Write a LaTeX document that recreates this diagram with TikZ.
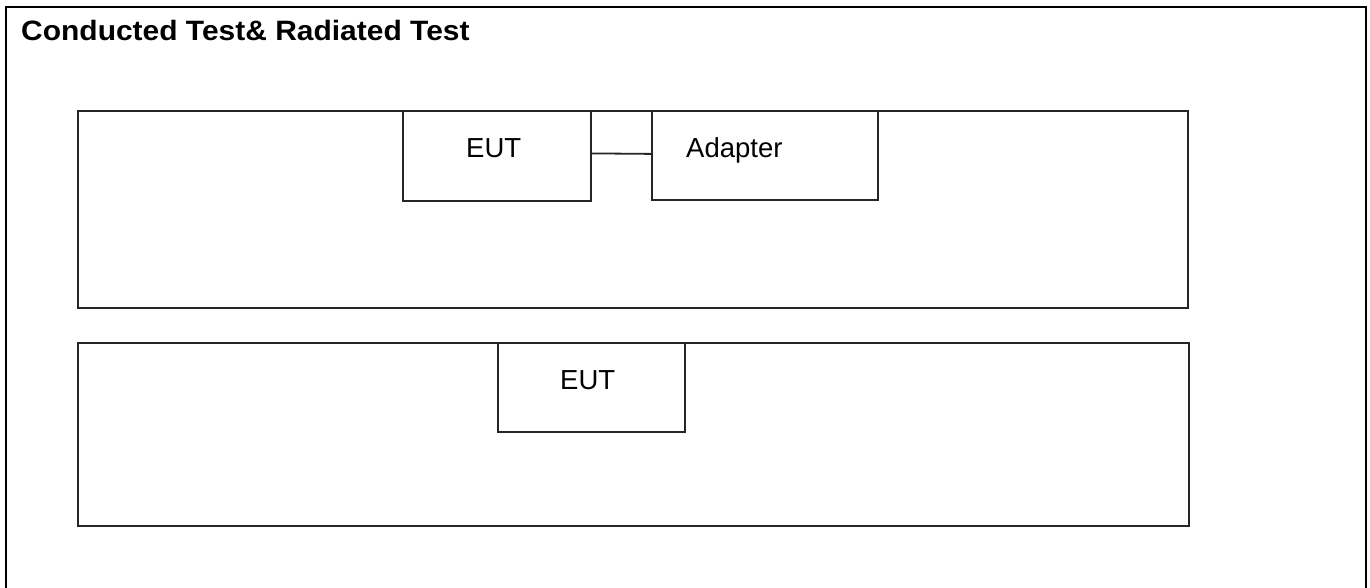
\documentclass[tikz,border=0pt]{standalone}
\usepackage{fontspec}
\setmainfont{Liberation Sans}
\begin{document}
\begin{tikzpicture}[x=1pt,y=-1pt,
  frame/.style={line width=2.6pt,black},
  bigbox/.style={draw=black!85,line width=2pt,rectangle,inner sep=0pt,anchor=north west},
  devbox/.style={draw=black!85,line width=1.8pt,rectangle,inner sep=0pt,anchor=north west},
  lbl/.style={font=\fontsize{27.5}{30}\selectfont,inner sep=0pt,anchor=base west},
  ttl/.style={font=\bfseries\fontsize{28}{30}\selectfont,inner sep=0pt,anchor=base west,xscale=1.07}]
\useasboundingbox (0,0) rectangle (1370,587);
\fill[white] (0,0) rectangle (1370,587);
% outer frame (open at bottom)
\coordinate (fbl) at (6,590);
\coordinate (ftl) at (6,7);
\coordinate (ftr) at (1366,7);
\coordinate (fbr) at (1366,590);
\draw[frame] (fbl) -- (ftl) -- (ftr) -- (fbr);
\node[ttl] (title) at (21,40) {Conducted Test\& Radiated Test};
% upper setup
\node[bigbox,minimum width=1110pt,minimum height=197pt] (upper) at (77,110) {};
\node[devbox,minimum width=188pt,minimum height=90pt] (eut) at (402,110) {};
\node[devbox,minimum width=226pt,minimum height=89pt] (adapter) at (651,110) {};
\node[lbl] (eutlbl) at (466,157) {EUT};
\node[lbl] (adlbl) at (686,157) {Adapter};
\draw[line width=1.8pt,black!85] ([yshift=2.5pt]eut.east) -- ([yshift=1.5pt]adapter.west);
% lower setup
\node[bigbox,minimum width=1111pt,minimum height=183pt] (lower) at (77,342) {};
\node[devbox,minimum width=187pt,minimum height=89pt] (eutb) at (497,342) {};
\node[lbl] (eutblbl) at (560,389) {EUT};
\end{tikzpicture}
\end{document}
